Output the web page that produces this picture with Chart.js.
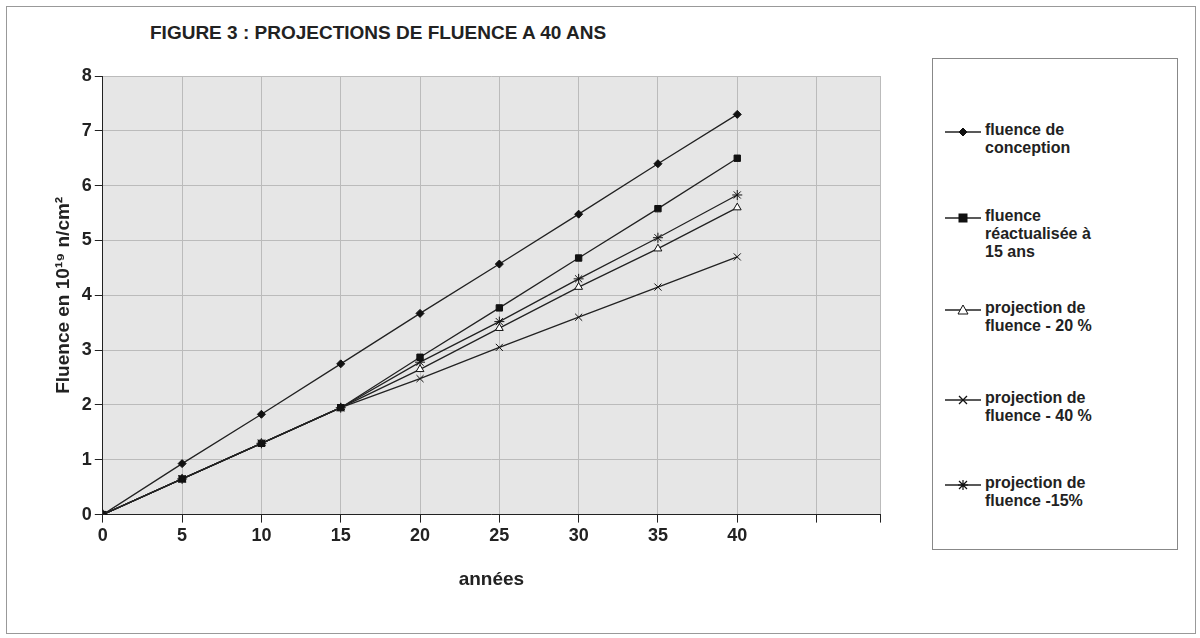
<!DOCTYPE html>
<html><head><meta charset="utf-8">
<script src="https://cdn.jsdelivr.net/npm/chart.js@4/dist/chart.umd.min.js"></script>
<style>
body{margin:0;background:#fff;font-family:"Liberation Sans",Arial,sans-serif;}
#frame{position:absolute;left:6px;top:6px;width:1188px;height:626px;border:1px solid #999;}
#title{position:absolute;left:150px;top:22px;font-size:19px;font-weight:bold;color:#222;}
#wrap{position:absolute;left:20px;top:50px;width:870px;height:545px;}
#legend{position:absolute;left:932px;top:58px;width:244px;height:490px;border:1px solid #888;font-size:16px;font-weight:bold;color:#222;}
.item{position:absolute;left:10px;display:flex;align-items:flex-start;}
.item svg{flex:none;margin-top:3px;}
</style></head><body>
<div id="frame"></div>
<div id="title">FIGURE 3 : PROJECTIONS DE FLUENCE A 40 ANS</div>
<div id="wrap"><canvas id="c"></canvas></div>
<div id="legend"></div>
<script>
// années
const years = [0, 5, 10, 15, 20, 25, 30, 35, 40];
// fluence en 10^19 n/cm2
const fluenceConception = [0, 0.93, 1.83, 2.75, 3.67, 4.57, 5.48, 6.4, 7.3];
const fluenceReactualisee = [0, 0.65, 1.3, 1.95, 2.87, 3.77, 4.68, 5.58, 6.5];
const projection20 = [0, 0.65, 1.3, 1.95, 2.65, 3.4, 4.15, 4.85, 5.6];
const projection40 = [0, 0.65, 1.3, 1.95, 2.48, 3.05, 3.6, 4.15, 4.7];
const projection15 = [0, 0.65, 1.3, 1.95, 2.78, 3.52, 4.3, 5.05, 5.83];
const seriesLabels = [
  ['fluence de', 'conception'],
  ['fluence', 'réactualisée à', '15 ans'],
  ['projection de', 'fluence - 20 %'],
  ['projection de', 'fluence - 40 %'],
  ['projection de', 'fluence -15%']
];
const markers = ['rectRot', 'rect', 'triangle', 'crossRot', 'star'];
const markerFill = ['#111', '#111', '#fff', '#111', '#111'];
const markerSize = [4, 4.5, 4.5, 5, 5];
const allData = [fluenceConception, fluenceReactualisee, projection20, projection40, projection15];

const bgPlugin = {
  id: 'bg',
  beforeDraw(chart) {
    const a = chart.chartArea, ctx = chart.ctx;
    ctx.save(); ctx.fillStyle = '#e6e6e6';
    ctx.fillRect(a.left, a.top, a.right - a.left, a.bottom - a.top);
    ctx.restore();
  }
};

new Chart(document.getElementById('c'), {
  type: 'line',
  data: {
    datasets: allData.map((d, i) => ({
      label: seriesLabels[i].join(' '),
      data: d.map((v, j) => ({x: years[j], y: v})),
      borderColor: '#222', borderWidth: 1.3,
      pointStyle: markers[i], pointRadius: markerSize[i],
      pointBackgroundColor: markerFill[i], pointBorderColor: '#111', pointBorderWidth: 1,
      tension: 0
    }))
  },
  options: {
    responsive: true, maintainAspectRatio: false, animation: false,
    layout: {padding: {top: 26, right: 10, left: 28}},
    plugins: {legend: {display: false}, tooltip: {enabled: false}},
    scales: {
      x: {type: 'linear', min: 0, max: 49,
        ticks: {stepSize: 5, color: '#222', font: {size: 18, weight: 'bold'},
          callback: v => v <= 40 ? v : ''},
        grid: {color: '#bbb', tickColor: '#222'}, border: {color: '#222'},
        title: {display: true, text: 'années', color: '#222', font: {size: 19, weight: 'bold'}, padding: {top: 18}}},
      y: {min: 0, max: 8,
        ticks: {stepSize: 1, color: '#222', font: {size: 18, weight: 'bold'}},
        grid: {color: '#bbb', tickColor: '#222'}, border: {color: '#222'},
        title: {display: true, text: 'Fluence en 10¹⁹ n/cm²', color: '#222', font: {size: 19, weight: 'bold'}}}
    }
  },
  plugins: [bgPlugin]
});

// légende
const tops = [62, 148, 240, 330, 415];
const legend = document.getElementById('legend');
const svgMark = i => {
  const f = markerFill[i];
  const m = [
    `<polygon points="20,4 24,8 20,12 16,8" fill="${f}" stroke="#111"/>`,
    `<rect x="16" y="4" width="8" height="8" fill="${f}" stroke="#111"/>`,
    `<polygon points="20,3 25,12 15,12" fill="${f}" stroke="#111"/>`,
    `<path d="M16 4L24 12M24 4L16 12" stroke="#111" stroke-width="1.3"/>`,
    `<path d="M16 4L24 12M24 4L16 12M20 3V13M15 8H25" stroke="#111" stroke-width="1.2"/>`
  ][i];
  return `<svg width="42" height="16"><line x1="2" y1="8" x2="38" y2="8" stroke="#222" stroke-width="1.3"/>${m}</svg>`;
};
seriesLabels.forEach((lines, i) => {
  const d = document.createElement('div');
  d.className = 'item'; d.style.top = tops[i] + 'px';
  d.innerHTML = svgMark(i) + '<div>' + lines.join('<br>') + '</div>';
  legend.appendChild(d);
});
</script>
</body></html>
